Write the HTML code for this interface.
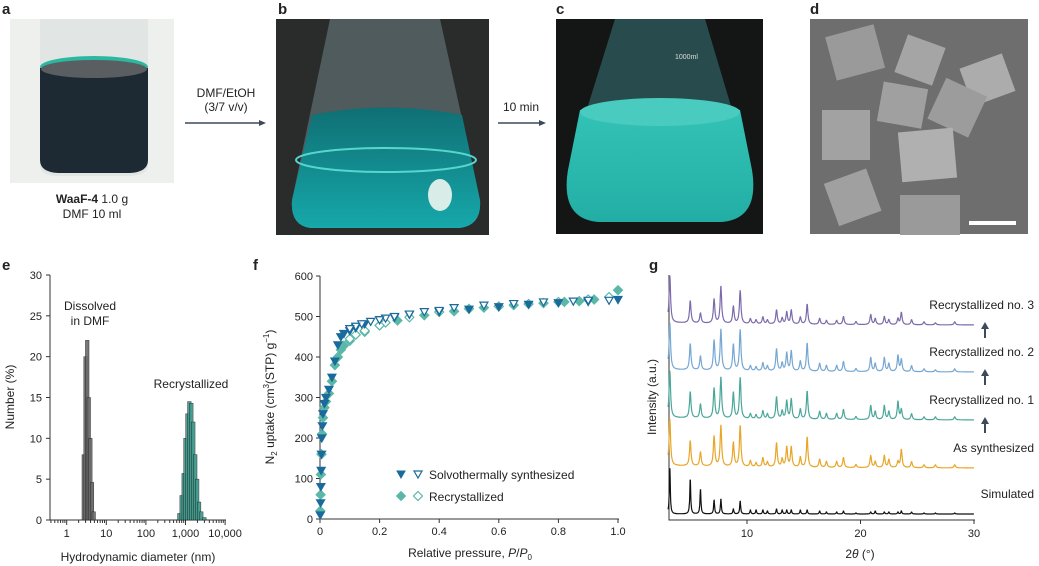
<!DOCTYPE html>
<html><head><meta charset="utf-8">
<style>
body{margin:0;background:#fff;width:1039px;height:566px;overflow:hidden;font-family:"Liberation Sans",sans-serif}
svg{display:block}
text{font-family:"Liberation Sans",sans-serif;fill:#222}
</style></head><body>
<svg id="fig" width="1039" height="566" viewBox="0 0 1039 566">
<defs>
<linearGradient id="flaskB" x1="0" y1="0" x2="0" y2="1"><stop offset="0" stop-color="#0f6f74"/><stop offset="1" stop-color="#16a8aa"/></linearGradient>
<linearGradient id="flaskC" x1="0" y1="0" x2="0" y2="1"><stop offset="0" stop-color="#35c4b8"/><stop offset="1" stop-color="#22aea4"/></linearGradient>
</defs>
<g font-weight="bold" font-size="15">
<text x="2" y="14">a</text><text x="278" y="14">b</text><text x="556" y="14">c</text><text x="810" y="14">d</text>
<text x="2" y="270">e</text><text x="253" y="270">f</text><text x="649" y="270">g</text>
</g>
<g>
<rect x="10" y="19" width="164" height="164" fill="#eef0ee"/>
<path d="M40 19 V165 Q40 175 55 176 H130 Q148 175 148 165 V19 Z" fill="#e1e6e4"/>
<ellipse cx="94" cy="67" rx="54" ry="11" fill="#2bb7a0"/>
<path d="M40 68 H148 V160 Q148 172 130 173 H58 Q40 172 40 160 Z" fill="#1e2a33"/>
<ellipse cx="94" cy="69" rx="53" ry="9" fill="#5a5e60"/>
</g>
<text x="92" y="203" text-anchor="middle" font-size="12"><tspan font-weight="bold">WaaF-4</tspan> 1.0 g</text>
<text x="92" y="218" text-anchor="middle" font-size="12">DMF 10 ml</text>
<g>
<text x="226" y="97" text-anchor="middle" font-size="12">DMF/EtOH</text>
<text x="226" y="111" text-anchor="middle" font-size="12">(3/7 v/v)</text>
<line x1="185" y1="123" x2="262" y2="123" stroke="#3d4a5c" stroke-width="1.5"/><path d="M266 123 l-7 -3 v6z" fill="#3d4a5c"/>
</g>
<g>
<rect x="276" y="19" width="213" height="216" fill="#2a2b2b"/>
<path d="M330 19 H440 L480 200 Q482 225 460 228 H310 Q290 225 292 200 Z" fill="#5f7073" opacity="0.7"/>
<path d="M312 115 Q385 100 462 115 L480 200 Q482 225 460 228 H310 Q290 225 292 200 Z" fill="url(#flaskB)"/>
<ellipse cx="386" cy="160" rx="90" ry="12" fill="none" stroke="#56d6cf" stroke-width="2"/>
<ellipse cx="440" cy="195" rx="12" ry="16" fill="#d8ece8"/>
</g>
<g>
<text x="521" y="111" text-anchor="middle" font-size="12">10 min</text>
<line x1="498" y1="123" x2="541" y2="123" stroke="#3d4a5c" stroke-width="1.5"/><path d="M546 123 l-7 -3 v6z" fill="#3d4a5c"/>
</g>
<g>
<rect x="556" y="19" width="207" height="215" fill="#141615"/>
<path d="M615 19 H705 L750 170 Q760 220 720 222 H600 Q560 220 568 170 Z" fill="#2d5a5b" opacity="0.8"/>
<path d="M580 110 Q660 90 740 110 L752 170 Q760 220 720 222 H600 Q560 220 568 170 Z" fill="url(#flaskC)"/>
<ellipse cx="660" cy="112" rx="80" ry="14" fill="#49cbc0"/>
<text x="675" y="59" font-size="7" style="fill:#ddd">1000ml</text>
</g>
<g>
<rect x="810" y="19" width="218" height="215" fill="#6e6e6e"/>
<rect x="830" y="30" width="50" height="45" fill="#9a9a9a" transform="rotate(-15 855 52)"/>
<rect x="900" y="40" width="40" height="40" fill="#a5a5a5" transform="rotate(20 920 60)"/>
<rect x="965" y="60" width="45" height="40" fill="#acacac" transform="rotate(-20 987 80)"/>
<rect x="880" y="85" width="45" height="40" fill="#a0a0a0" transform="rotate(10 902 105)"/>
<rect x="935" y="85" width="45" height="45" fill="#9c9c9c" transform="rotate(25 957 107)"/>
<rect x="822" y="110" width="48" height="50" fill="#a2a2a2"/>
<rect x="900" y="130" width="55" height="50" fill="#b0b0b0" transform="rotate(-5 927 155)"/>
<rect x="830" y="175" width="45" height="45" fill="#a0a0a0" transform="rotate(-20 852 197)"/>
<rect x="900" y="195" width="60" height="40" fill="#9a9a9a"/>
<rect x="969" y="221" width="47" height="4" fill="#fff"/>
</g>

<g id="chartE"></g>
<g id="chartF"></g>
<g id="chartG"></g>
</svg>
<script>
const eGrayDiam = [2.7, 3.0, 3.3, 3.6, 3.95, 4.35, 4.8];
const eGrayPct  = [8, 20, 22, 15, 10, 4.6, 1];
const eGreenDiam = [700, 800, 900, 1000, 1120, 1250, 1400, 1570, 1760, 1970, 2200, 2500, 3000];
const eGreenPct  = [0.8, 3, 5.7, 10, 13, 14.5, 14.3, 12, 8, 5, 2.2, 1, 0.3];
const eYTicks = [0,5,10,15,20,25,30];
const eXTicks = [1,10,100,1000,10000];
const eXTickLabels = ['1','10','100','1,000','10,000'];
const fSolvAdsP = [0.001,0.002,0.003,0.004,0.005,0.006,0.008,0.01,0.015,0.02,0.03,0.04,0.05,0.06,0.07,0.08,0.1,0.12,0.15,0.2,0.25,0.3,0.4,0.5,0.6,0.7,0.8,0.9,1.0];
const fSolvAdsV = [10,40,80,120,160,200,230,260,285,300,320,350,390,430,450,458,465,472,482,492,498,505,512,518,524,530,534,537,542];
const fSolvDesP = [0.97,0.9,0.85,0.75,0.65,0.55,0.45,0.4,0.35,0.3,0.25,0.22,0.2,0.17,0.14,0.12,0.1];
const fSolvDesV = [540,540,538,536,532,528,522,515,512,506,500,496,492,488,482,476,470];
const fRecAdsP = [0.001,0.002,0.003,0.005,0.007,0.01,0.015,0.02,0.03,0.04,0.05,0.06,0.07,0.08,0.1,0.15,0.2,0.26,0.35,0.45,0.55,0.65,0.75,0.82,0.87,0.92,1.0];
const fRecAdsV = [20,60,110,160,210,250,275,290,310,340,380,400,418,428,440,462,478,490,503,513,522,528,533,536,538,542,565];
const fRecDesP = [0.97,0.9,0.8,0.7,0.6,0.5,0.4,0.3,0.22,0.2,0.15,0.12,0.1];
const fRecDesV = [548,542,536,531,525,519,511,498,485,478,465,455,445];
const fXTicks = [0,0.2,0.4,0.6,0.8,1.0];
const fYTicks = [0,100,200,300,400,500,600];
const gPeakPos = [3.2,5.0,5.9,7.1,7.7,8.8,9.4,10.3,10.8,11.4,11.8,12.6,13.1,13.5,13.9,14.7,15.3,16.4,17.0,17.9,18.5,19.6,20.9,21.3,22.1,22.5,23.3,23.6,24.5,25.6,26.6,28.3];
const gRec3 = [47,22,10,24,37,17,33,5,4,7,4,14,6,12,14,7,20,6,4,4,8,3,10,6,8,5,6,12,5,3,2,3];
const gRec2 = [47,26,14,30,41,26,41,5,4,8,5,22,8,18,20,10,28,8,6,6,10,3,14,8,14,8,16,12,6,3,2,3];
const gRec1 = [47,26,14,30,41,26,41,5,4,8,5,22,8,18,20,10,28,8,6,6,10,3,14,8,14,8,18,10,6,3,3,3];
const gAsSyn = [47,25,14,30,41,24,41,6,4,9,5,24,8,20,20,10,30,8,6,6,10,3,12,6,12,8,6,18,6,3,3,3];
const gSim = [47,35,25,14,15,5,13,4,4,4,3,5,4,4,4,4,4,3,2,2,3,1,2,3,2,2,2,3,2,1,1,1];
const gSeriesNames = ['Simulated','As synthesized','Recrystallized no. 1','Recrystallized no. 2','Recrystallized no. 3'];
const gOffsets = [0, 46, 94, 142, 189];
const gXTicks = [10,20,30];

const NS='http://www.w3.org/2000/svg';
function mk(parent,tag,attrs,txt){const el=document.createElementNS(NS,tag);for(const k in attrs)el.setAttribute(k,attrs[k]);if(txt!==undefined)el.textContent=txt;parent.appendChild(el);return el;}

(function(){
 const g=document.getElementById('chartE');
 const x=d=>66.7+Math.log10(d)*39.6, y=v=>520-v*(245/30);
 const ax=mk(g,'path',{d:'M50 275 V520 H226',fill:'none',stroke:'#333','stroke-width':1});
 
 
 eYTicks.forEach(t=>{mk(g,'line',{x1:46,x2:50,y1:y(t),y2:y(t),stroke:'#333'});
  const l=mk(g,'text',{x:42,y:y(t)+4,'text-anchor':'end','font-size':11},t);
  
  });
 for(let e=-1;e<4;e++)for(let m=1;m<10;m++){const v=Math.pow(10,e)*m;const px=x(v);if(px<50||px>226)continue;mk(g,'line',{x1:px,x2:px,y1:520,y2:m===1?525:523,stroke:'#333'});}
 mk(g,'line',{x1:x(10000),x2:x(10000),y1:520,y2:525,stroke:'#333'});
 eXTicks.forEach((t,i)=>{const l=mk(g,'text',{x:x(t),y:537,'text-anchor':'middle','font-size':11},eXTickLabels[i]);
  
  });
 function bars(ds,vs,fill,name){ds.forEach((d,i)=>{const w=0.045;const x0=x(d*Math.pow(10,-w)),x1=x(d*Math.pow(10,w));
  const r=mk(g,'rect',{x:x0,y:y(vs[i]),width:x1-x0,height:520-y(vs[i]),fill:fill,stroke:'#222','stroke-width':0.5,opacity:0.9});
  
  });}
 bars(eGrayDiam,eGrayPct,'#6a6a6a','bar-dissolved');
 bars(eGreenDiam,eGreenPct,'#3f9a8c','bar-recrystallized');
 mk(g,'text',{x:90,y:310,'text-anchor':'middle','font-size':12},'Dissolved');
 mk(g,'text',{x:90,y:325,'text-anchor':'middle','font-size':12},'in DMF');
 mk(g,'text',{x:191,y:388,'text-anchor':'middle','font-size':12},'Recrystallized');
 const yl=mk(g,'text',{x:0,y:0,'text-anchor':'middle','font-size':12,transform:'translate(14 397) rotate(-90)'},'Number (%)');
 
 
 const xl=mk(g,'text',{x:138,y:561,'text-anchor':'middle','font-size':12},'Hydrodynamic diameter (nm)');
 
 
})();

(function(){
 const g=document.getElementById('chartF');
 const x=p=>320+p*298, y=v=>519-v*(243/600);
 mk(g,'path',{d:'M320 276 V519 H619',fill:'none',stroke:'#333'});
 fYTicks.forEach(t=>{mk(g,'line',{x1:316,x2:320,y1:y(t),y2:y(t),stroke:'#333'});
  const l=mk(g,'text',{x:313,y:y(t)+4,'text-anchor':'end','font-size':11},t);
  
  });
 fXTicks.forEach(t=>{mk(g,'line',{x1:x(t),x2:x(t),y1:519,y2:523,stroke:'#333'});
  const l=mk(g,'text',{x:x(t),y:535,'text-anchor':'middle','font-size':11},t===0?'0':t.toFixed(1));
  
  });
 const tri=(cx,cy)=>`M${cx-4} ${cy-3} L${cx+4} ${cy-3} L${cx} ${cy+4} Z`;
 const dia=(cx,cy)=>`M${cx} ${cy-4.5} L${cx+4.5} ${cy} L${cx} ${cy+4.5} L${cx-4.5} ${cy} Z`;
 function pts(P,V,shape,fill,stroke,name){P.forEach((p,i)=>{const m=mk(g,'path',{d:shape(x(p),y(V[i])),fill:fill,stroke:stroke,'stroke-width':1.2});
  
  });}
 pts(fRecAdsP,fRecAdsV,dia,'#5bb8a8','#5bb8a8','point-recrystallized-ads');
 pts(fRecDesP,fRecDesV,dia,'#fff','#5bb8a8','point-recrystallized-des');
 pts(fSolvAdsP,fSolvAdsV,tri,'#1a6a9c','#1a6a9c','point-solvothermal-ads');
 pts(fSolvDesP,fSolvDesV,tri,'#fff','#1a6a9c','point-solvothermal-des');
 const lg=mk(g,'g',{});
 
 
 mk(lg,'path',{d:tri(401,474),fill:'#1a6a9c',stroke:'#1a6a9c'});
 mk(lg,'path',{d:tri(418,474),fill:'#fff',stroke:'#1a6a9c','stroke-width':1.2});
 mk(lg,'text',{x:429,y:479,'font-size':12},'Solvothermally synthesized');
 mk(lg,'path',{d:dia(401,496),fill:'#5bb8a8',stroke:'#5bb8a8'});
 mk(lg,'path',{d:dia(418,496),fill:'#fff',stroke:'#5bb8a8','stroke-width':1.2});
 mk(lg,'text',{x:429,y:501,'font-size':12},'Recrystallized');
 const yl=mk(g,'text',{x:0,y:0,'text-anchor':'middle','font-size':12,transform:'translate(274 397) rotate(-90)'});
 yl.innerHTML='N<tspan font-size="8" dy="3">2</tspan><tspan dy="-3"> uptake (cm</tspan><tspan font-size="8" dy="-5">3</tspan><tspan dy="5">(STP) g</tspan><tspan font-size="8" dy="-5">−1</tspan><tspan dy="5">)</tspan>';
 
 
 const xl=mk(g,'text',{x:470,y:557,'text-anchor':'middle','font-size':12});
 xl.innerHTML='Relative pressure, <tspan font-style="italic">P</tspan>/<tspan font-style="italic">P</tspan><tspan font-size="8" dy="3">0</tspan>';
 
 
})();

(function(){
 const g=document.getElementById('chartG');
 const x=t=>747+(t-10)*11.35;
 const base=514;
 mk(g,'path',{d:'M669 275 V520 H975',fill:'none',stroke:'#333'});
 gXTicks.forEach(t=>{mk(g,'line',{x1:x(t),x2:x(t),y1:520,y2:524,stroke:'#333'});
  const l=mk(g,'text',{x:x(t),y:537,'text-anchor':'middle','font-size':11},t);
  
  });
 const series=[gSim,gAsSyn,gRec1,gRec2,gRec3];
 const colors=['#111','#e8a628','#4aa79a','#76a7d2','#7c6bab'];
 const names=['line-simulated','line-as-synthesized','line-recrystallized-1','line-recrystallized-2','line-recrystallized-3'];
 const labelY=[];
 series.forEach((h,si)=>{
  const w=si===0?0.05:0.08;
  let d='';
  for(let t=3.05;t<=30;t+=0.02){
   let v=0;
   for(let k=0;k<gPeakPos.length;k++){const dx=(t-gPeakPos[k])/w;v+=h[k]/(1+dx*dx);}
   if(si>0)v+=2.5*Math.exp(-(t-3)/8);
   const py=base-gOffsets[si]-v;
   d+=(d?'L':'M')+x(t).toFixed(1)+' '+py.toFixed(1);
  }
  const p=mk(g,'path',{d:d,fill:'none',stroke:colors[si],'stroke-width':1.2});
  
  
  const ly=base-gOffsets[si]-16;
  labelY.push(ly);
  const lb=mk(g,'text',{x:1034,y:ly,'text-anchor':'end','font-size':12},gSeriesNames[si]);
  
  
 });
 [2,3,4].forEach(i=>{const yt=labelY[i]+13, yb=labelY[i]+29;
  const a=mk(g,'g',{});
  
  
  mk(a,'line',{x1:985,x2:985,y1:yb,y2:yt+5,stroke:'#3d4a5c','stroke-width':2});
  mk(a,'path',{d:`M985 ${yt} l-4 7 h8z`,fill:'#3d4a5c'});});
 const yl=mk(g,'text',{x:0,y:0,'text-anchor':'middle','font-size':12,transform:'translate(656 397) rotate(-90)'},'Intensity (a.u.)');
 
 
 const xl=mk(g,'text',{x:860,y:558,'text-anchor':'middle','font-size':12});
 xl.innerHTML='2<tspan font-style="italic">θ</tspan> (°)';
 
 
})();
</script>
</body></html>
